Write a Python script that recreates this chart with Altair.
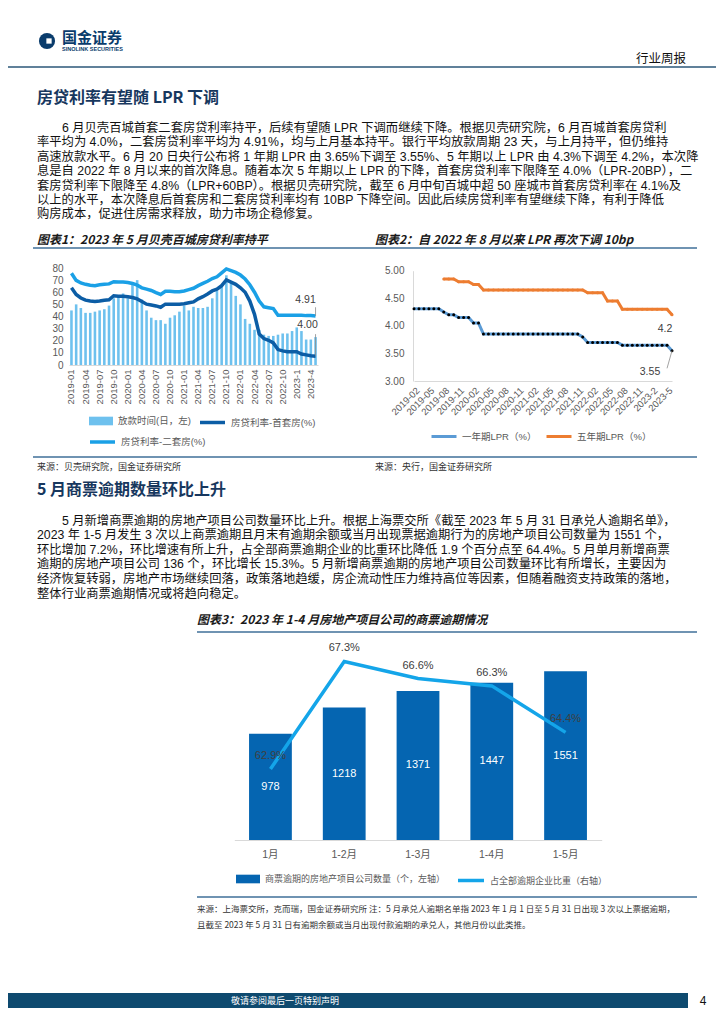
import altair as alt
import pandas as pd

CJK = "Noto Sans CJK SC"
SANS = "Liberation Sans, Noto Sans CJK SC"
GRAY = "#595959"
AXC = "#d9d9d9"
NAVY = "#17375e"
W, H = 708, 1000

# ---------------- data ----------------
months1 = [f"{y}-{m:02d}" for y in (2019, 2020, 2021, 2022) for m in range(1, 13)] + [f"2023-{m}" for m in range(1, 6)]
tick_months1 = months1[::3]
days1 = [45, 50, 47, 43, 43, 44, 45, 46, 49, 55, 57, 59,
         55, 68, 70, 54, 45, 39, 37, 37, 34, 39, 41, 44,
         49, 45, 48, 47, 47, 48, 55, 61, 65, 74, 69, 57,
         50, 38, 34, 29, 29, 25, 24, 24, 25, 26, 26, 28,
         31, 28, 21, 21, 23]
rate_first = [5.55, 5.40, 5.32, 5.27, 5.25, 5.24, 5.25, 5.27, 5.28, 5.37, 5.36, 5.36,
              5.35, 5.33, 5.30, 5.24, 5.18, 5.16, 5.14, 5.11, 5.18, 5.18, 5.18, 5.18,
              5.19, 5.21, 5.23, 5.30, 5.35, 5.41, 5.48, 5.52, 5.60, 5.73, 5.68, 5.63,
              5.55, 5.45, 5.25, 4.95, 4.50, 4.40, 4.36, 4.30, 4.15, 4.12, 4.10, 4.10,
              4.10, 4.05, 4.03, 4.01, 4.00]
rate_second = [5.88, 5.72, 5.66, 5.63, 5.61, 5.60, 5.62, 5.63, 5.64, 5.69, 5.68, 5.68,
               5.67, 5.65, 5.61, 5.55, 5.52, 5.49, 5.44, 5.40, 5.47, 5.47, 5.46, 5.46,
               5.48, 5.51, 5.54, 5.60, 5.65, 5.70, 5.76, 5.80, 5.89, 5.98, 5.94, 5.90,
               5.84, 5.75, 5.62, 5.45, 5.25, 5.12, 5.10, 5.08, 4.93, 4.93, 4.93, 4.93,
               4.93, 4.93, 4.92, 4.92, 4.91]
s_bar1 = "放款时间(日，左)"
s_first = "房贷利率-首套房(%)"
s_second = "房贷利率-二套房(%)"

months2 = [f"2019-{m:02d}" for m in range(2, 13)] + [f"{y}-{m:02d}" for y in (2020, 2021, 2022) for m in range(1, 13)] + [f"2023-{m}" for m in range(1, 7)]
tick_months2 = months2[::3]
lpr_1y = [4.31, 4.31, 4.31, 4.31, 4.31, 4.31, 4.25, 4.20, 4.20, 4.15, 4.15,
          4.15, 4.05, 4.05, 3.85, 3.85, 3.85, 3.85, 3.85, 3.85, 3.85, 3.85, 3.85,
          3.85, 3.85, 3.85, 3.85, 3.85, 3.85, 3.85, 3.85, 3.85, 3.85, 3.85, 3.80,
          3.70, 3.70, 3.70, 3.70, 3.70, 3.70, 3.70, 3.65, 3.65, 3.65, 3.65, 3.65,
          3.65, 3.65, 3.65, 3.65, 3.65, 3.55]
lpr_5y = [None, None, None, None, None, None, 4.85, 4.85, 4.85, 4.80, 4.80,
          4.80, 4.75, 4.75, 4.65, 4.65, 4.65, 4.65, 4.65, 4.65, 4.65, 4.65, 4.65,
          4.65, 4.65, 4.65, 4.65, 4.65, 4.65, 4.65, 4.65, 4.65, 4.65, 4.65, 4.65,
          4.60, 4.60, 4.60, 4.60, 4.45, 4.45, 4.45, 4.30, 4.30, 4.30, 4.30, 4.30,
          4.30, 4.30, 4.30, 4.30, 4.30, 4.20]
s_1y = "一年期LPR（%）"
s_5y = "五年期LPR（%）"

cats3 = ["1月", "1-2月", "1-3月", "1-4月", "1-5月"]
counts3 = [978, 1218, 1371, 1447, 1551]
ratio3 = [62.9, 67.3, 66.6, 66.3, 64.4]
s_bar3 = "商票逾期的房地产项目公司数量（个，左轴）"
s_line3 = "占全部逾期企业比重（右轴）"

para1 = [
    "6 月贝壳百城首套二套房贷利率持平，后续有望随 LPR 下调而继续下降。根据贝壳研究院，6 月百城首套房贷利",
    "率平均为 4.0%，二套房贷利率平均为 4.91%，均与上月基本持平。银行平均放款周期 23 天，与上月持平，但仍维持",
    "高速放款水平。6 月 20 日央行公布将 1 年期 LPR 由 3.65%下调至 3.55%、5 年期以上 LPR 由 4.3%下调至 4.2%，本次降",
    "息是自 2022 年 8 月以来的首次降息。随着本次 5 年期以上 LPR 的下降，首套房贷利率下限降至 4.0%（LPR-20BP），二",
    "套房贷利率下限降至 4.8%（LPR+60BP）。根据贝壳研究院，截至 6 月中旬百城中超 50 座城市首套房贷利率在 4.1%及",
    "以上的水平，本次降息后首套房和二套房贷利率均有 10BP 下降空间。因此后续房贷利率有望继续下降，有利于降低",
    "购房成本，促进住房需求释放，助力市场企稳修复。",
]
para2 = [
    "5 月新增商票逾期的房地产项目公司数量环比上升。根据上海票交所《截至 2023 年 5 月 31 日承兑人逾期名单》，",
    "2023 年 1-5 月发生 3 次以上商票逾期且月末有逾期余额或当月出现票据逾期行为的房地产项目公司数量为 1551 个，",
    "环比增加 7.2%，环比增速有所上升，占全部商票逾期企业的比重环比降低 1.9 个百分点至 64.4%。5 月单月新增商票",
    "逾期的房地产项目公司 136 个，环比增长 15.3%。5 月新增商票逾期的房地产项目公司数量环比有所增长，主要因为",
    "经济恢复转弱，房地产市场继续回落，政策落地趋缓，房企流动性压力维持高位等因素，但随着融资支持政策的落地，",
    "整体行业商票逾期情况或将趋向稳定。",
]

one = pd.DataFrame({"k": [0]})


def label(s, x, y, size, color="#000000", weight="normal", style="normal", align="left", font=CJK):
    return alt.Chart(one).mark_text(align=align, baseline="middle", font=font, fontSize=size,
                                    fontWeight=weight, fontStyle=style, color=color).encode(
        x=alt.value(x), y=alt.value(y), text=alt.value(s))


def hline(x1, x2, y, color, w):
    return alt.Chart(one).mark_rule(color=color, strokeWidth=w).encode(
        x=alt.value(x1), x2=alt.value(x2), y=alt.value(y))


def paragraph(lines, x, indent, y0, lh, size):
    df = pd.DataFrame({"line": lines, "i": list(range(len(lines)))})
    n = len(lines)
    ysc = alt.Scale(domain=[0, n - 1], range=[y0, y0 + lh * (n - 1)])
    base = alt.Chart(df).mark_text(align="left", baseline="middle", font=SANS, fontSize=size, color="#111111")
    first = base.transform_filter("datum.i == 0").encode(
        x=alt.value(x + indent), y=alt.Y("i:Q", scale=ysc, axis=None), text="line:N")
    rest = base.transform_filter("datum.i > 0").encode(
        x=alt.value(x), y=alt.Y("i:Q", scale=ysc, axis=None), text="line:N")
    return alt.layer(first, rest)


def legend(x, y, stype, ssize, swidth=None, fsize=9.5):
    kw = dict(orient="none", legendX=x, legendY=y, title=None, symbolType=stype, symbolSize=ssize,
              labelFont=SANS, labelFontSize=fsize, labelColor=GRAY, labelOffset=4, symbolOpacity=1, labelLimit=400)
    if swidth is not None:
        kw["symbolStrokeWidth"] = swidth
    return alt.Legend(**kw)


BARSYM = "M-1,-0.36H1V0.36H-1Z"

# ---------------- page decoration ----------------
page = [
    alt.Chart(one).mark_point(shape="circle", filled=True, size=260, color="#0a3c6c", opacity=1).encode(
        x=alt.value(39), y=alt.value(33)),
    alt.Chart(one).mark_point(shape="square", filled=True, size=28, color="white", opacity=1).encode(
        x=alt.value(41), y=alt.value(33)),
    label("国金证券", 54, 30, 15, "#0a3c6c", weight="bold"),
    label("SINOLINK SECURITIES", 54, 41, 5.5, "#0a3c6c", weight="bold", font=SANS),
    label("行业周报", 678, 51, 12.5, "#111111", align="right"),
    hline(0, W, 59, "#2b5778", 1.5),
    label("房贷利率有望随 LPR 下调", 29, 90, 16, NAVY, weight="bold"),
    paragraph(para1, 29, 25, 120, 14.4, 12.3),
    label("图表1：2023 年 5 月贝壳百城房贷利率持平", 29, 232, 12, "#1a1a1a", weight="bold", style="italic"),
    label("图表2：自 2022 年 8 月以来 LPR 再次下调 10bp", 367, 232, 12, "#1a1a1a", weight="bold", style="italic"),
    hline(25, 689, 240, "#3f6f99", 1.5),
    hline(25, 689, 449, "#3f6f99", 1.5),
    label("来源：贝壳研究院，国金证券研究所", 29, 459, 9, "#333333"),
    label("来源：央行，国金证券研究所", 367, 459, 9, "#333333"),
    label("5 月商票逾期数量环比上升", 29, 482, 16, NAVY, weight="bold"),
    paragraph(para2, 29, 25, 512.5, 14.6, 12.3),
    label("图表3：2023 年 1-4 月房地产项目公司的商票逾期情况", 189, 612, 12, "#1a1a1a", weight="bold", style="italic"),
    hline(189, 689, 624, "#3f6f99", 1.5),
    hline(189, 689, 889, "#3f6f99", 1.5),
    label("来源：上海票交所，克而瑞，国金证券研究所 注：5 月承兑人逾期名单指 2023 年 1 月 1 日至 5 月 31 日出现 3 次以上票据逾期，",
          189, 901, 8.5, "#333333"),
    label("且截至 2023 年 5 月 31 日有逾期余额或当月出现付款逾期的承兑人，其他月份以此类推。", 189, 917, 8.5, "#333333"),
    alt.Chart(one).mark_rect(color="#0e4a6f").encode(
        x=alt.value(0), x2=alt.value(680), y=alt.value(985), y2=alt.value(1000)),
    label("敬请参阅最后一页特别声明", 277, 992.5, 9, "#ffffff", align="center"),
    label("4", 695, 992.5, 12, "#111111", align="center", font=SANS),
]

# ---------------- chart 1 ----------------
df1 = pd.DataFrame({"month": months1, "days": days1, "first": rate_first, "second": rate_second})
x1 = alt.X("month:O", scale=alt.Scale(type="band", domain=months1, range=[61, 310], paddingInner=0.45, paddingOuter=0.25),
           axis=alt.Axis(orient="bottom", offset=357 - H, values=tick_months1, labelAngle=-90, labelFont=SANS,
                         labelFontSize=9.5, labelColor=GRAY, ticks=False, domainColor=AXC, labelPadding=4,
                         title=None, grid=False))
yl1 = alt.Scale(domain=[0, 80], range=[357, 260], nice=False, zero=True)
yr1 = alt.Scale(domain=[3.8, 6.0], range=[357, 260], nice=False, zero=False)

bars1 = alt.Chart(df1).transform_calculate(s=f"'{s_bar1}'").mark_bar(opacity=1).encode(
    x=x1,
    y=alt.Y("days:Q", scale=yl1,
            axis=alt.Axis(orient="left", offset=-61, values=list(range(0, 81, 10)), ticks=False, domain=False,
                          labelPadding=6, grid=False, title=None, labelFont=SANS, labelFontSize=10, labelColor=GRAY)),
    fill=alt.Fill("s:N", scale=alt.Scale(domain=[s_bar1], range=["#6ec1ee"]), legend=legend(80, 400, BARSYM, 576)))

line_first = alt.Chart(df1).transform_calculate(s=f"'{s_first}'").mark_line(strokeWidth=3.5).encode(
    x=x1,
    y=alt.Y("first:Q", scale=yr1,
            axis=alt.Axis(orient="right", offset=310 - W, values=[3.8, 4.3, 4.8, 5.3, 5.8], format=".1f",
                          ticks=False, domain=False, labelPadding=6, grid=False, title=None, labelFont=SANS,
                          labelFontSize=10, labelColor=GRAY)),
    stroke=alt.Stroke("s:N", scale=alt.Scale(domain=[s_first], range=["#0c5da5"]),
                      legend=legend(190, 400, "stroke", 625, 3.5)))

line_second = alt.Chart(df1).transform_calculate(s=f"'{s_second}'").mark_line(strokeWidth=3.5).encode(
    x=x1,
    y=alt.Y("second:Q", scale=yr1, axis=None),
    stroke=alt.Stroke("s:N", scale=alt.Scale(domain=[s_second], range=["#1aa0e6"]),
                      legend=legend(80, 419.5, "stroke", 625, 3.5)))

last1 = "datum.month == '2023-5'"
lead_second = alt.Chart(df1).transform_filter(last1).transform_calculate(top="datum.second + 0.2").mark_rule(
    color="#8c8c8c", strokeWidth=0.8).encode(x=x1, y=alt.Y("second:Q", scale=yr1, axis=None), y2="top:Q")
lead_first = alt.Chart(df1).transform_filter(last1).transform_calculate(top="datum.first + 0.5").mark_rule(
    color="#8c8c8c", strokeWidth=0.8).encode(x=x1, y=alt.Y("first:Q", scale=yr1, axis=None), y2="top:Q")
lab_second = alt.Chart(df1).transform_filter(last1).mark_text(
    dx=-10, dy=-16, font=SANS, fontSize=10.5, color="#404040").encode(
    x=x1, y=alt.Y("second:Q", scale=yr1, axis=None), text=alt.Text("second:Q", format=".2f"))
lab_first = alt.Chart(df1).transform_filter(last1).mark_text(
    dx=-8, dy=-31, font=SANS, fontSize=10.5, color="#404040").encode(
    x=x1, y=alt.Y("first:Q", scale=yr1, axis=None), text=alt.Text("first:Q", format=".2f"))

chart1 = alt.layer(
    bars1,
    alt.layer(line_first, line_second, lead_second, lead_first, lab_second, lab_first).resolve_scale(stroke="independent"),
).resolve_scale(y="independent")

# ---------------- chart 2 ----------------
rows2 = []
for m, a, b in zip(months2, lpr_1y, lpr_5y):
    rows2.append({"month": m, "series": s_1y, "v": a})
    if b is not None:
        rows2.append({"month": m, "series": s_5y, "v": b})
df2 = pd.DataFrame(rows2)

x2 = alt.X("month:O", scale=alt.Scale(type="point", domain=months2, range=[406, 664], padding=0),
           axis=alt.Axis(orient="bottom", offset=373 - H, values=tick_months2, labelAngle=-45, labelFont=SANS,
                         labelFontSize=9.5, labelColor=GRAY, ticks=False, domainColor=AXC, labelPadding=4,
                         title=None, grid=False))
ys2 = alt.Scale(domain=[3.0, 5.0], range=[373, 262.7], nice=False, zero=False)
y2 = alt.Y("v:Q", scale=ys2,
           axis=alt.Axis(orient="left", offset=-405, values=[3.0, 3.5, 4.0, 4.5, 5.0], format=".2f",
                         ticks=False, domainColor=AXC, labelPadding=9, grid=False, title=None, labelFont=SANS,
                         labelFontSize=10, labelColor=GRAY))

f1y = f"datum.series == '{s_1y}'"
f5y = f"datum.series == '{s_5y}'"
line1y = alt.Chart(df2).transform_filter(f1y).mark_line(strokeWidth=3).encode(
    x=x2, y=y2,
    stroke=alt.Stroke("series:N", scale=alt.Scale(domain=[s_1y], range=["#5b9bd5"]),
                      legend=legend(422, 414.5, "stroke", 625, 3)))
line5y = alt.Chart(df2).transform_filter(f5y).mark_line(strokeWidth=3).encode(
    x=x2, y=y2,
    stroke=alt.Stroke("series:N", scale=alt.Scale(domain=[s_5y], range=["#ed7d31"]),
                      legend=legend(537, 414.5, "stroke", 625, 3)))
pts1y = alt.Chart(df2).transform_filter(f1y).mark_point(
    filled=True, size=9, color="#000000", opacity=1).encode(x=x2, y=y2)
pts5y = alt.Chart(df2).transform_filter(f5y).mark_point(
    filled=True, size=9, color="#ed7d31", opacity=1).encode(x=x2, y=y2)

last2 = "datum.month == '2023-6'"
lab5y = alt.Chart(df2).transform_filter(last2).transform_filter(f5y).mark_text(
    dx=-7, dy=14, font=SANS, fontSize=10.5, color="#404040").encode(x=x2, y=y2, text=alt.Text("v:Q", format=".1f"))
lab1y = alt.Chart(df2).transform_filter(last2).transform_filter(f1y).mark_text(
    dx=-22, dy=21, font=SANS, fontSize=10.5, color="#404040").encode(x=x2, y=y2, text=alt.Text("v:Q", format=".2f"))
lead1y = alt.Chart(df2).transform_filter(last2).transform_filter(f1y).transform_calculate(
    m2="'2023-5'", v2="datum.v - 0.32").mark_rule(color="#8c8c8c", strokeWidth=0.8).encode(
    x=x2, y=y2, x2="m2:O", y2="v2:Q")

chart2 = alt.layer(line1y, line5y, pts1y, pts5y, lead1y, lab5y, lab1y).resolve_scale(stroke="independent")

# ---------------- chart 3 ----------------
df3 = pd.DataFrame({"cat": cats3, "count": counts3, "ratio": [r / 100 for r in ratio3]})
x3 = alt.X("cat:N", scale=alt.Scale(type="band", domain=cats3, range=[226.3, 593.7], paddingInner=0.42, paddingOuter=0.2),
           axis=alt.Axis(orient="bottom", offset=832 - H, labelAngle=0, ticks=False, domainColor=AXC, labelPadding=9,
                         labelFont=SANS, labelFontSize=10.5, labelColor=GRAY, title=None, grid=False))
yl3 = alt.Scale(domain=[0, 1800], range=[832, 636.3], nice=False, zero=True)
yr3 = alt.Scale(domain=[0.60, 0.68], range=[832, 636.3], nice=False, zero=False)

bars3 = alt.Chart(df3).transform_calculate(s=f"'{s_bar3}'").mark_bar(opacity=1).encode(
    x=x3,
    y=alt.Y("count:Q", scale=yl3,
            axis=alt.Axis(orient="left", offset=-226.3, values=list(range(0, 1801, 200)), tickSize=3, tickColor=AXC,
                          domainColor=AXC, labelPadding=4, grid=False, title=None, labelFont=SANS,
                          labelFontSize=10, labelColor=GRAY)),
    fill=alt.Fill("s:N", scale=alt.Scale(domain=[s_bar3], range=["#0565b1"]),
                  legend=legend(227, 858, BARSYM, 576, fsize=9)))
barlab3 = alt.Chart(df3).transform_calculate(half="datum.count / 2").mark_text(
    font=SANS, fontSize=11, color="#ffffff").encode(x=x3, y=alt.Y("half:Q", scale=yl3, axis=None), text="count:Q")

line3 = alt.Chart(df3).transform_calculate(s=f"'{s_line3}'").mark_line(strokeWidth=3.5).encode(
    x=x3,
    y=alt.Y("ratio:Q", scale=yr3,
            axis=alt.Axis(orient="right", offset=593.7 - W, values=[0.60, 0.61, 0.62, 0.63, 0.64, 0.65, 0.66, 0.67, 0.68],
                          format=".0%", tickSize=3, tickColor=AXC, domainColor=AXC, labelPadding=5, grid=False,
                          title=None, labelFont=SANS, labelFontSize=10, labelColor=GRAY)),
    stroke=alt.Stroke("s:N", scale=alt.Scale(domain=[s_line3], range=["#14a5e9"]),
                      legend=legend(448, 857.5, "stroke", 676, 3.5, fsize=9)))
linelab3 = alt.Chart(df3).mark_text(dy=-13, font=SANS, fontSize=11, color="#404040").encode(
    x=x3, y=alt.Y("ratio:Q", scale=yr3, axis=None), text=alt.Text("ratio:Q", format=".1%"))

chart3 = alt.layer(alt.layer(bars3, barlab3), alt.layer(line3, linelab3)).resolve_scale(y="independent")

# ---------------- whole page ----------------
chart = alt.layer(*page, chart1, chart2, chart3).resolve_scale(
    x="independent", y="independent", fill="independent", stroke="independent"
).properties(
    width=W, height=H, padding=0, autosize=alt.AutoSizeParams(type="none"), background="white"
).configure_view(stroke=None)

chart.save("out.html", embed_options={"renderer": "svg", "actions": False})
